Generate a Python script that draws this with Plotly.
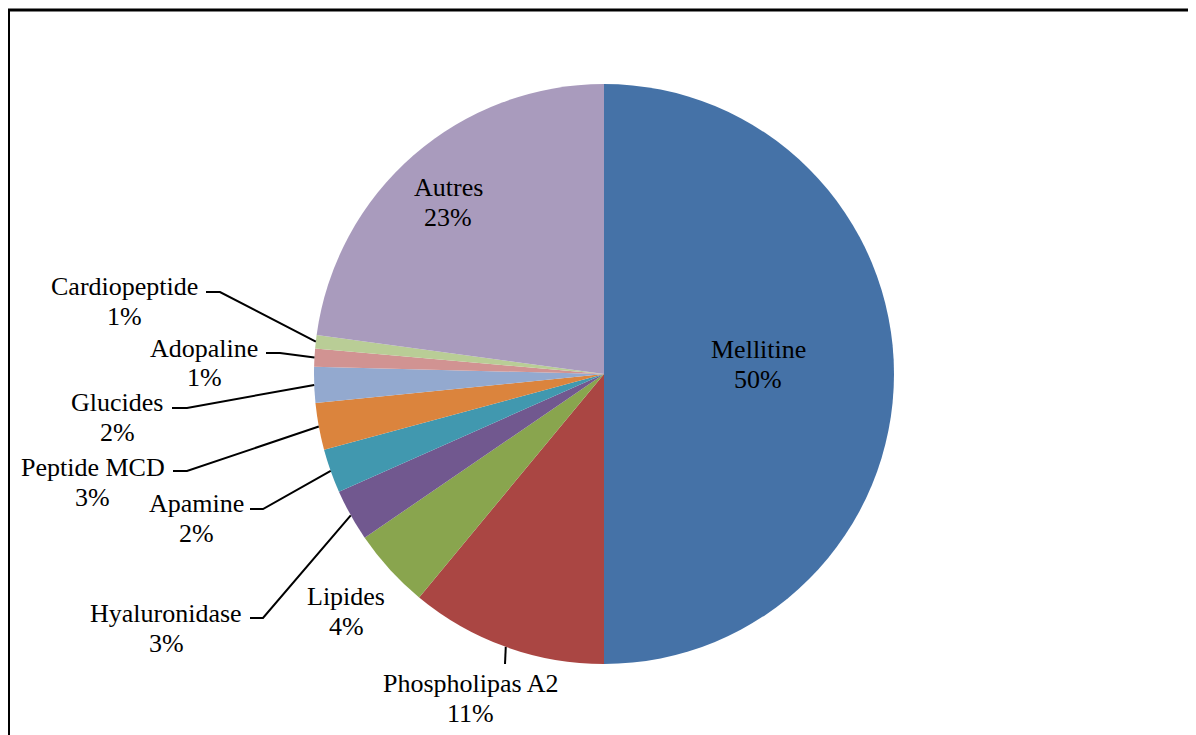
import math
import plotly.graph_objects as go

# page offset of the plot div (browser body margin)
OFF = 8
W, H = 1196 - OFF, 735 - OFF

labels = ["Mellitine", "Phospholipas A2", "Lipides", "Hyaluronidase", "Apamine",
          "Peptide MCD", "Glucides", "Adopaline", "Cardiopeptide", "Autres"]
values = [50, 11, 4.45, 2.9, 2.45, 2.6, 2.0, 1.0, 0.75, 22.85]
colors = ["#4572A7", "#AA4643", "#89A54E", "#71588F", "#4198AF",
          "#DB843D", "#93A9CF", "#D19392", "#B9CD96", "#A99BBD"]

# layout: label positions (page-pixel centre of the name line) and leader elbows
label_pos = {
    "Mellitine": (758, 349),
    "Phospholipas A2": (471, 683),
    "Lipides": (346, 596),
    "Hyaluronidase": (166, 613),
    "Apamine": (196, 503),
    "Peptide MCD": (93, 467),
    "Glucides": (117, 402),
    "Adopaline": (204, 348),
    "Cardiopeptide": (124, 286),
    "Autres": (448, 188),
}
leader = {  # (label-side end, elbow)
    "Cardiopeptide": ((206, 292), (220, 292)),
    "Adopaline": ((266, 353), (280, 353)),
    "Glucides": ((172, 408), (187, 408)),
    "Peptide MCD": ((173, 471), (187, 471)),
    "Apamine": ((250, 509), (263, 509)),
    "Hyaluronidase": ((250, 618), (263, 618)),
    "Phospholipas A2": ((505, 664), (505, 664)),
}

CX, CY, R = 604, 374, 290
LINE = 30
FONT = dict(family="Liberation Serif", size=26, color="black")


def px(x):
    return (x - OFF) / W


def py(y):
    return 1 - (y - OFF) / H


total = sum(values)
fig = go.Figure()
fig.add_trace(go.Pie(
    labels=labels, values=values, sort=False, direction="clockwise", rotation=0,
    marker=dict(colors=colors, line=dict(width=0)),
    textinfo="none", hoverinfo="label+percent", showlegend=False,
    domain=dict(x=[px(CX - R), px(CX + R)], y=[py(CY + R), py(CY - R)]),
    automargin=False,
))

annotations = []
shapes = []
cum = 0.0
for lab, v in zip(labels, values):
    mid = (cum + v / 2) / total * 2 * math.pi
    cum += v
    pct = f"{round(v / total * 100)}%"
    x, y = label_pos[lab]
    annotations.append(dict(x=px(x), y=py(y), xref="paper", yref="paper", text=lab,
                            showarrow=False, font=FONT, xanchor="center", yanchor="middle"))
    annotations.append(dict(x=px(x), y=py(y + LINE), xref="paper", yref="paper", text=pct,
                            showarrow=False, font=FONT, xanchor="center", yanchor="middle"))
    if lab in leader:
        (ex, ey), (bx, by) = leader[lab]
        sx = CX + R * math.sin(mid)
        sy = CY - R * math.cos(mid)
        path = f"M {px(ex)} {py(ey)} L {px(bx)} {py(by)} L {px(sx)} {py(sy)}"
        shapes.append(dict(type="path", path=path, xref="paper", yref="paper",
                           line=dict(color="black", width=2)))

shapes.append(dict(type="rect", xref="paper", yref="paper",
                   x0=px(8.5), x1=px(1230), y0=py(10), y1=py(790),
                   line=dict(color="black", width=3), fillcolor="rgba(0,0,0,0)"))

fig.update_layout(
    width=W, height=H, margin=dict(l=0, r=0, t=0, b=0),
    paper_bgcolor="white", plot_bgcolor="white",
    annotations=annotations, shapes=shapes,
)

fig.write_html("out.html")
